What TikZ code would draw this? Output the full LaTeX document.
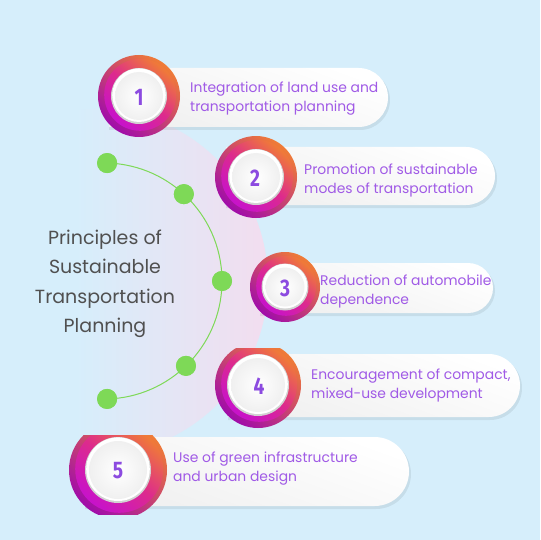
\documentclass[tikz,border=0pt]{standalone}
\usepackage{fontspec}
\setmainfont{Poppins}
\newfontfamily\numfont{Fira Sans}
\usetikzlibrary{calc}
\definecolor{bgblue}{HTML}{D6EEFB}
\definecolor{pinkbg}{HTML}{F3DDEF}
\definecolor{ringorange}{HTML}{F07C36}
\definecolor{ringpink}{HTML}{DD2B8C}
\definecolor{ringmag}{HTML}{C712CB}
\definecolor{ringdark}{HTML}{A00CAA}
\definecolor{numpurple}{HTML}{8C4BE0}
\definecolor{txtpurple}{HTML}{A05AE6}
\definecolor{titlegray}{HTML}{505050}
\definecolor{dotgreen}{HTML}{7ED957}
\newcommand{\itemring}[4]{% cx cy R r
  \shade[top color=ringorange, bottom color=ringdark, shading angle=-40] (#1,#2) circle (#3);
  \shade[top color=ringorange, bottom color=ringmag, middle color=ringpink, shading angle=-40] (#1+1.2,#2-1.2) circle (#3-5);
  \fill[gray!35] (#1,#2) circle (#4);
  \fill[white] (#1,#2-0.8) circle (#4-1.2);
  \shade[inner color=white, outer color=gray!12] (#1,#2) circle (#4-4);
}
\newcommand{\pillpath}[4]{% left top right bottom
  (#1,#2) -- ({#3-(#4-#2)/2},#2) arc[start angle=-90, end angle=90, radius={(#4-#2)/2}] -- (#1,#4) -- cycle}
\tikzset{
  itemtext/.style={anchor=west, align=left, inner sep=0pt, text=txtpurple,
    font=\fontsize{13.9}{19}\selectfont},
  numtext/.style={inner sep=0pt, text=numpurple, font=\numfont\bfseries\fontsize{24}{24}\selectfont},
  dot/.style={circle, fill=dotgreen, minimum size=20pt, inner sep=0pt},
  pillfill/.style={top color=white, bottom color=gray!12, shading angle=-20},
  pillshadow/.style={fill=black, opacity=0.07},
}
\begin{document}
\begin{tikzpicture}[x=1pt,y=-1pt]
\useasboundingbox (0,0) rectangle (540,540);
\fill[bgblue] (0,0) rectangle (540,540);
% pink half disc
\begin{scope}
  \clip (95,282) circle (173);
  \shade[left color=bgblue, right color=pinkbg] (75,100) rectangle (270,470);
\end{scope}
% green arc and dots
\coordinate (ac) at (104,281);
\node[dot] (d1) at ($(ac)+(-88.5:118)$) {};
\node[dot] (d2) at ($(ac)+(-47.4:118)$) {};
\node[dot] (d3) at ($(ac)+(0:118)$) {};
\node[dot] (d4) at ($(ac)+(46:118)$) {};
\node[dot] (d5) at ($(ac)+(88.5:118)$) {};
\draw[dotgreen, line width=1pt] (d1.center) arc[start angle=-88.5, end angle=88.5, radius=118];
\foreach \d in {d1,d2,d3,d4,d5} \fill[dotgreen] (\d) circle (10);
% title
\node[align=center, text=titlegray, font=\fontsize{19}{29.5}\selectfont] (title) at (105,284)
  {Principles of\\Sustainable\\Transportation\\Planning};
% item 1
\fill[pillshadow] \pillpath{109}{70}{390}{130};
\shade[pillfill] \pillpath{109}{68}{388}{127};
\itemring{139}{96}{41}{28}
\node[numtext] (n1) at (139,97) {\scalebox{0.8}[1]{1}};
\node[itemtext] (t1) at (190,99) {Integration of land use and\\transportation planning};
% item 2
\fill[pillshadow] \pillpath{226}{149}{497}{208};
\shade[pillfill] \pillpath{226}{147}{495}{205};
\begin{scope}
  \clip (200,137) rectangle (310,230);
  \itemring{256}{177}{41}{28}
\end{scope}
\node[numtext] (n2) at (255,178) {\scalebox{0.8}[1]{2}};
\node[itemtext] (t2) at (304,180) {Promotion of sustainable\\modes of transportation};
% item 3
\fill[pillshadow] \pillpath{260}{265}{495}{316};
\shade[pillfill] \pillpath{260}{263}{493}{313};
\itemring{285}{287}{35}{23.5}
\node[numtext] (n3) at (285,288) {\scalebox{0.8}[1]{3}};
\node[itemtext] (t3) at (320,291) {Reduction of automobile\\dependence};
% item 4
\fill[pillshadow] \pillpath{228}{356}{522}{420};
\shade[pillfill] \pillpath{228}{354}{520}{417};
\begin{scope}
  \clip (200,348) rectangle (320,440);
  \itemring{258}{385}{43}{31}
\end{scope}
\node[numtext] (n4) at (259,386) {\scalebox{0.8}[1]{4}};
\node[itemtext] (t4) at (311,385) {Encouragement of compact,\\mixed-use development};
% item 5
\fill[pillshadow] \pillpath{85}{439}{411}{509};
\shade[pillfill] \pillpath{85}{437}{409}{506};
\begin{scope}
  \clip (60,435) rectangle (180,514);
  \itemring{118}{470}{49}{33}
\end{scope}
\node[numtext] (n5) at (118,471) {\scalebox{0.8}[1]{5}};
\node[itemtext] (t5) at (173,469) {Use of green infrastructure\\and urban design};
\end{tikzpicture}
\end{document}
